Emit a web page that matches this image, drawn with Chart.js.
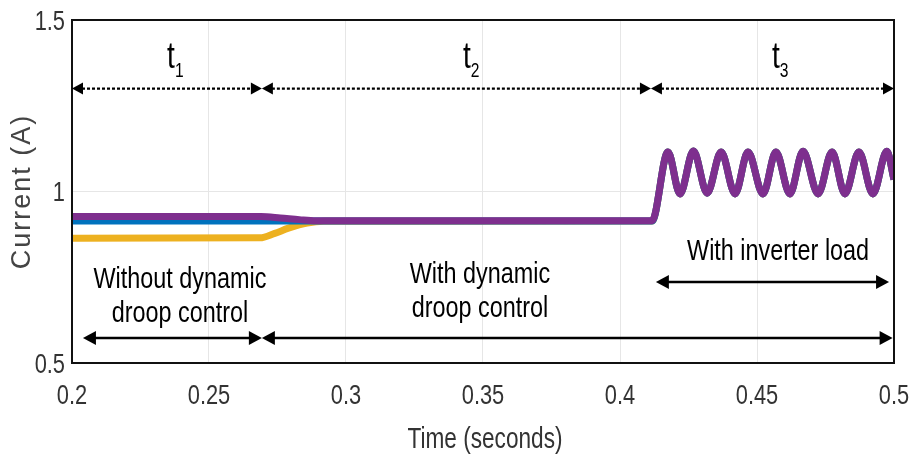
<!DOCTYPE html>
<html>
<head>
<meta charset="utf-8">
<script src="https://cdn.jsdelivr.net/npm/chart.js@4/dist/chart.umd.min.js"></script>
<style>
  html, body { margin: 0; padding: 0; background: #fff; }
  #wrap { width: 913px; height: 458px; }
</style>
</head>
<body>
<div id="wrap"><canvas id="grafico" width="913" height="458"></canvas></div>
<script>
// Datos (tiempo en s, corriente en A)
const purpleTime = [0.2, 0.269, 0.276, 0.283, 0.289, 0.4117];
const purpleCurrent = [0.927, 0.927, 0.923, 0.918, 0.915, 0.915];
const blueTime = [0.2, 0.27, 0.28, 0.4117];
const blueCurrent = [0.914, 0.914, 0.914, 0.914];
const yellowTime = [0.2, 0.2686, 0.274, 0.279, 0.2858, 0.292, 0.4117];
const yellowCurrent = [0.864, 0.865, 0.878, 0.893, 0.908, 0.913, 0.914];

// tramo con carga del inversor (comun a las tres curvas)
const loadTime = [0.4175, 0.4219, 0.4268, 0.4318, 0.4369, 0.4420, 0.4467, 0.4522, 0.4569,
    0.4620, 0.4668, 0.4723, 0.4774, 0.4821, 0.4872, 0.4923, 0.4974, 0.5];
const loadCurrent = [1.115, 0.993, 1.118, 0.995, 1.115, 0.993, 1.115, 0.993, 1.115,
    0.993, 1.117, 0.993, 1.115, 0.993, 1.115, 0.993, 1.117, 1.035];

const xTicks = [0.2, 0.25, 0.3, 0.35, 0.4, 0.45, 0.5];
const xTickLabels = ['0.2', '0.25', '0.3', '0.35', '0.4', '0.45', '0.5'];
const yTicks = [0.5, 1, 1.5];
const yTickLabels = ['0.5', '1', '1.5'];

const sans = "'Liberation Sans', Arial, sans-serif";
const ANGOSTO = 0.78; // compresion horizontal para imitar Arial Narrow

function armarSerie(tiempos, corrientes) {
    const puntos = tiempos.map((t, i) => ({ x: t, y: corrientes[i] }));
    loadTime.forEach((t, i) => puntos.push({ x: t, y: loadCurrent[i] }));
    return puntos;
}

// Anotaciones (en unidades de los ejes)
const flechasPunteadas = [[0.2, 0.2693], [0.2693, 0.4113], [0.4113, 0.5]];
const yPunteada = 1.3;
const etiquetasT = [
    { x: 0.2347, sub: '1' },
    { x: 0.3427, sub: '2' },
    { x: 0.4555, sub: '3' }
];
const textos = [
    { x: 0.2394, y: 0.719, txt: 'Without dynamic' },
    { x: 0.2394, y: 0.620, txt: 'droop control' },
    { x: 0.3489, y: 0.733, txt: 'With dynamic' },
    { x: 0.3489, y: 0.634, txt: 'droop control' },
    { x: 0.4577, y: 0.800, txt: 'With inverter load' }
];
const flechasSolidas = [
    { x1: 0.204, x2: 0.2693, y: 0.573 },
    { x1: 0.2693, x2: 0.4995, y: 0.573 },
    { x1: 0.4131, x2: 0.4982, y: 0.736 }
];

function texto(ctx, txt, x, y, size, align, baseline, color) {
    ctx.save();
    ctx.translate(x, y);
    ctx.scale(ANGOSTO, 1);
    ctx.font = size + 'px ' + sans;
    ctx.textAlign = align;
    ctx.textBaseline = baseline;
    ctx.fillStyle = color;
    ctx.fillText(txt, 0, 0);
    const w = ctx.measureText(txt).width * ANGOSTO;
    ctx.restore();
    return w;
}

function punta(ctx, x, y, dir, largo, alto) {
    ctx.beginPath();
    ctx.moveTo(x, y);
    ctx.lineTo(x - dir * largo, y - alto);
    ctx.lineTo(x - dir * largo, y + alto);
    ctx.closePath();
    ctx.fill();
}

function flecha(ctx, xa, xb, y, punteada) {
    const largo = punteada ? 11 : 13;
    const alto = punteada ? 6 : 7;
    ctx.save();
    ctx.strokeStyle = '#000';
    ctx.fillStyle = '#000';
    ctx.lineWidth = punteada ? 2.2 : 2.6;
    ctx.setLineDash(punteada ? [3, 2] : []);
    ctx.beginPath();
    ctx.moveTo(xa + largo - 1, y);
    ctx.lineTo(xb - largo + 1, y);
    ctx.stroke();
    ctx.setLineDash([]);
    punta(ctx, xa, y, -1, largo, alto);
    punta(ctx, xb, y, 1, largo, alto);
    ctx.restore();
}

const pluginAnotaciones = {
    id: 'anotaciones',
    afterDatasetsDraw(chart) {
        const ctx = chart.ctx;
        const sx = chart.scales.x;
        const sy = chart.scales.y;
        const area = chart.chartArea;

        // marco del grafico
        ctx.save();
        ctx.strokeStyle = '#111';
        ctx.lineWidth = 2;
        ctx.strokeRect(area.left, area.top, area.right - area.left, area.bottom - area.top);
        ctx.restore();

        // etiquetas de los ejes
        xTicks.forEach((v, i) => {
            texto(ctx, xTickLabels[i], sx.getPixelForValue(v), area.bottom + 41, 28, 'center', 'alphabetic', '#333');
        });
        yTicks.forEach((v, i) => {
            texto(ctx, yTickLabels[i], area.left - 7, sy.getPixelForValue(v) + 2, 28, 'right', 'middle', '#333');
        });
        texto(ctx, 'Time (seconds)', (area.left + area.right) / 2 + 2, 448, 29, 'center', 'alphabetic', '#333');

        ctx.save();
        ctx.translate(23, (area.top + area.bottom) / 2);
        ctx.rotate(-Math.PI / 2);
        ctx.font = '27px ' + sans;
        ctx.letterSpacing = '2px';
        ctx.textAlign = 'center';
        ctx.textBaseline = 'middle';
        ctx.fillStyle = '#444';
        ctx.fillText('Current (A)', 0, 0);
        ctx.restore();

        const yp = sy.getPixelForValue(yPunteada);
        flechasPunteadas.forEach(([a, b]) => flecha(ctx, sx.getPixelForValue(a), sx.getPixelForValue(b), yp, true));

        flechasSolidas.forEach(f => flecha(ctx, sx.getPixelForValue(f.x1), sx.getPixelForValue(f.x2), sy.getPixelForValue(f.y), false));

        etiquetasT.forEach(e => {
            const x = sx.getPixelForValue(e.x);
            const w = texto(ctx, 't', x, sy.getPixelForValue(1.360), 36, 'left', 'alphabetic', '#000');
            texto(ctx, e.sub, x + w, sy.getPixelForValue(1.334), 20, 'left', 'alphabetic', '#000');
        });
        textos.forEach(t => {
            texto(ctx, t.txt, sx.getPixelForValue(t.x), sy.getPixelForValue(t.y), 30, 'center', 'alphabetic', '#000');
        });
    }
};

const datasetsBase = { borderWidth: 7, pointRadius: 0, cubicInterpolationMode: 'monotone', fill: false };

new Chart(document.getElementById('grafico'), {
    type: 'line',
    data: {
        datasets: [
            { ...datasetsBase, label: 'Purple', data: armarSerie(purpleTime, purpleCurrent), borderColor: '#7E2F8E' },
            { ...datasetsBase, label: 'Blue', data: armarSerie(blueTime, blueCurrent), borderColor: '#0072BD' },
            { ...datasetsBase, label: 'Yellow', data: armarSerie(yellowTime, yellowCurrent), borderColor: '#EDB120' }
        ]
    },
    options: {
        responsive: false,
        animation: false,
        layout: { padding: { top: 20, right: 19, bottom: 0, left: 0 } },
        plugins: { legend: { display: false }, tooltip: { enabled: false } },
        scales: {
            x: {
                type: 'linear',
                min: 0.2,
                max: 0.5,
                afterBuildTicks: scale => { scale.ticks = xTicks.map(v => ({ value: v })); },
                afterFit: scale => { scale.height = 95; },
                grid: { color: '#e6e6e6', lineWidth: 1, drawTicks: false },
                border: { display: false },
                ticks: { display: false }
            },
            y: {
                type: 'linear',
                min: 0.5,
                max: 1.5,
                afterBuildTicks: scale => { scale.ticks = yTicks.map(v => ({ value: v })); },
                afterFit: scale => { scale.width = 72; },
                grid: { color: '#e6e6e6', lineWidth: 1, drawTicks: false },
                border: { display: false },
                ticks: { display: false }
            }
        }
    },
    plugins: [pluginAnotaciones]
});
</script>
</body>
</html>
